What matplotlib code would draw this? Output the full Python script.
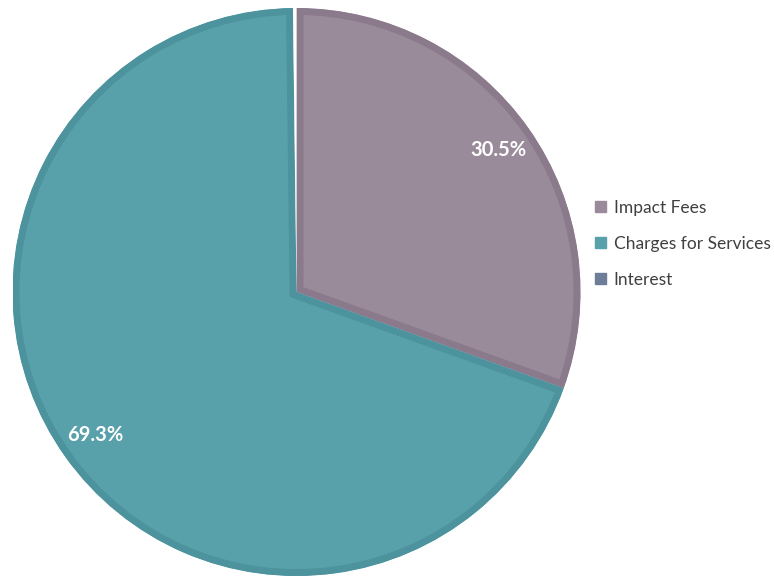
import matplotlib
matplotlib.use('Agg')
import matplotlib.pyplot as plt
import matplotlib.patches as mpatches

# revenue sources
labels = ['Impact Fees', 'Charges for Services', 'Interest']
shares = [30.5, 69.3, 0.2]
colors = ['#9a8b9b', '#58a0aa', '#6e7d98']
edges = ['#8a7a8c', '#4c939d', '#ffffff']

plt.rcParams['font.family'] = ['Lato', 'DejaVu Sans']

fig = plt.figure(figsize=(7.74, 5.79), dpi=100)
ax = fig.add_axes([0.01615, 0.00518, 0.7339, 0.981])


def pct(v):
    return '%.1f%%' % v if v >= 1 else ''


wedges, texts, autotexts = ax.pie(shares, colors=colors, startangle=90,
                                  counterclock=False, autopct=pct,
                                  pctdistance=0.87,
                                  wedgeprops=dict(linewidth=0))
# darker inner rim on each slice: wide stroke clipped to the wedge itself
for w, ec in zip(wedges, edges):
    w.set_edgecolor(ec)
    w.set_linewidth(10)
    w.set_clip_on(True)
    w.set_clip_path(w)

for t in autotexts:
    t.set_color('white')
    t.set_fontweight('bold')
    t.set_fontsize(14.5)

handles = [mpatches.Patch(color=c) for c in colors]
fig.legend(handles, labels, loc='upper left', bbox_to_anchor=(0.749, 0.682),
           frameon=False, fontsize=12.5, handlelength=0.6, handleheight=0.6,
           handletextpad=0.45, labelspacing=1.15, labelcolor='#404040')

ax.set_xlim(-1, 1)
ax.set_ylim(-1, 1)
ax.set_aspect('equal')
fig.savefig('out.png', dpi=100)
